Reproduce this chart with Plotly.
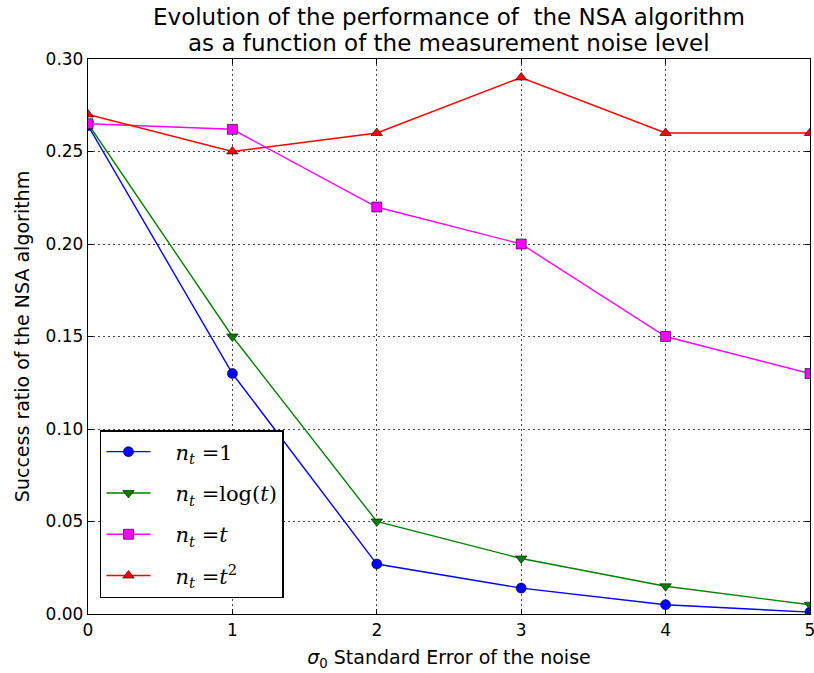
import plotly.graph_objects as go

sigma = [0, 1, 2, 3, 4, 5]
ratio_one = [0.264, 0.13, 0.027, 0.014, 0.005, 0.001]
ratio_log = [0.265, 0.15, 0.05, 0.03, 0.015, 0.005]
ratio_t = [0.265, 0.262, 0.22, 0.20, 0.15, 0.13]
ratio_t2 = [0.27, 0.25, 0.26, 0.29, 0.26, 0.26]
x_ticks = [0, 1, 2, 3, 4, 5]
y_ticks = [0, 0.05, 0.10, 0.15, 0.20, 0.25, 0.30]
y_tick_labels = ["0.00", "0.05", "0.10", "0.15", "0.20", "0.25", "0.30"]

pad = "&nbsp;&nbsp;&nbsp;"
series = [
    (pad + "<i>n</i><sub><i>t</i></sub> =1", ratio_one, "#0000ff", "circle"),
    (pad + "<i>n</i><sub><i>t</i></sub> =log(<i>t</i>)", ratio_log, "#007f00", "triangle-down"),
    (pad + "<i>n</i><sub><i>t</i></sub> =<i>t</i>", ratio_t, "#ff00ff", "square"),
    (pad + "<i>n</i><sub><i>t</i></sub> =<i>t</i><sup>2</sup>", ratio_t2, "#ff0000", "triangle-up"),
]

fig = go.Figure()
for i, (name, vals, col, sym) in enumerate(series):
    fig.add_trace(go.Scatter(
        x=sigma, y=vals, name=name, mode="lines+markers",
        line=dict(color=col, width=1.4),
        marker=dict(symbol=sym, size=10, color=col, line=dict(color="black", width=0.6)),
        legendgroup=f"g{i}",
    ))

axis_common = dict(
    showline=True, linecolor="black", linewidth=1.3, mirror="ticks",
    ticks="inside", ticklen=5, tickcolor="black",
    showgrid=True, gridcolor="#444444", griddash="2px,3px", gridwidth=0.8,
    zeroline=False, tickfont=dict(family="DejaVu Sans", size=17, color="black"),
    ticklabeloverflow="allow",
)

title_font = dict(family="DejaVu Sans", size=23, color="black")
label_font = dict(family="DejaVu Sans", size=19, color="black")

fig.update_layout(
    width=818, height=673,
    margin=dict(l=88, r=3, t=59, b=59),
    paper_bgcolor="white", plot_bgcolor="white",
    xaxis=dict(range=[0, 5], tickvals=x_ticks, ticktext=[str(v) for v in x_ticks],
               title=dict(text="<i>σ</i><sub>0</sub> Standard Error of the noise",
                          font=label_font, standoff=12),
               **axis_common),
    yaxis=dict(range=[0, 0.30], tickvals=y_ticks, ticktext=y_tick_labels,
               title=dict(text="Success ratio of the NSA algorithm",
                          font=label_font, standoff=10),
               **axis_common),
    legend=dict(
        x=0.0166, y=0.3315, xanchor="left", yanchor="top",
        bordercolor="black", borderwidth=1.5, bgcolor="white",
        font=dict(family="DejaVu Serif", size=21, color="black"),
        traceorder="grouped", tracegroupgap=11,
        itemwidth=44,
    ),
    annotations=[
        dict(text="Evolution of the performance of  the NSA algorithm", xref="paper", yref="paper",
             x=0.5, y=1.0757, xanchor="center", yanchor="middle", showarrow=False, font=title_font),
        dict(text="as a function of the measurement noise level", xref="paper", yref="paper",
             x=0.5, y=1.0288, xanchor="center", yanchor="middle", showarrow=False, font=title_font),
    ],
    showlegend=True,
)

fig.write_html("out.html", config={"displayModeBar": False},
               post_script="document.body.style.margin='0';document.body.style.overflow='hidden';")
